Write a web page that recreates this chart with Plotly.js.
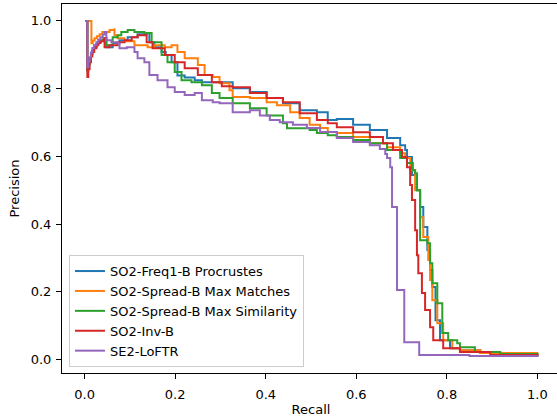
<!DOCTYPE html>
<html><head><meta charset="utf-8">
<script src="https://cdn.plot.ly/plotly-3.0.1.min.js"></script>
<style>html,body{margin:0;padding:0;overflow:hidden;background:#fff}#chart{width:560px;height:420px}</style>
</head><body><div id="chart"></div>
<script>
const seriesNames = ["SO2-Freq1-B Procrustes","SO2-Spread-B Max Matches","SO2-Spread-B Max Similarity","SO2-Inv-B","SE2-LoFTR"];
const seriesColors = ["#1f77b4","#ff7f0e","#2ca02c","#d62728","#9467bd"];

const blueRecall = [0.001,0.006,0.006,0.008,0.011,0.014,0.017,0.021,0.026,0.030,0.035,0.042,0.048,0.048,0.062,0.077,0.095,0.117,0.137,0.143,0.154,0.170,0.179,0.192,0.205,0.221,0.243,0.259,0.283,0.305,0.327,0.365,0.402,0.438,0.475,0.513,0.537,0.557,0.593,0.630,0.668,0.697,0.708,0.712,0.723,0.734,0.741,0.748,0.757,0.763,0.768,0.775,0.785,0.807,0.829,0.874,0.918,1.0];
const bluePrecision = [1.0,1.0,0.854,0.872,0.890,0.903,0.913,0.923,0.931,0.938,0.943,0.949,0.949,0.922,0.934,0.943,0.952,0.961,0.964,0.937,0.922,0.908,0.899,0.878,0.839,0.833,0.825,0.819,0.819,0.819,0.801,0.790,0.772,0.757,0.736,0.730,0.707,0.710,0.693,0.678,0.654,0.633,0.619,0.598,0.545,0.500,0.450,0.391,0.323,0.264,0.214,0.116,0.057,0.033,0.027,0.019,0.013,0.010];

const orangeRecall = [0.001,0.015,0.015,0.018,0.022,0.027,0.033,0.039,0.055,0.066,0.066,0.073,0.088,0.110,0.139,0.154,0.177,0.192,0.205,0.221,0.250,0.265,0.283,0.298,0.320,0.327,0.365,0.402,0.425,0.454,0.475,0.497,0.520,0.537,0.557,0.593,0.630,0.668,0.697,0.708,0.719,0.730,0.741,0.748,0.759,0.763,0.768,0.779,0.792,0.812,0.829,0.874,1.0];
const orangePrecision = [1.0,1.0,0.934,0.942,0.949,0.955,0.961,0.967,0.973,0.978,0.958,0.949,0.940,0.928,0.922,0.928,0.922,0.928,0.908,0.890,0.870,0.840,0.834,0.816,0.795,0.775,0.772,0.760,0.751,0.730,0.713,0.693,0.684,0.672,0.669,0.657,0.639,0.627,0.609,0.595,0.559,0.500,0.420,0.362,0.294,0.235,0.175,0.107,0.057,0.033,0.027,0.019,0.010];

const greenRecall = [0.001,0.006,0.006,0.008,0.011,0.014,0.017,0.021,0.026,0.030,0.035,0.042,0.048,0.062,0.073,0.081,0.095,0.110,0.132,0.148,0.170,0.183,0.199,0.214,0.236,0.259,0.281,0.298,0.327,0.365,0.402,0.438,0.447,0.475,0.497,0.513,0.537,0.557,0.593,0.630,0.668,0.697,0.712,0.725,0.730,0.734,0.741,0.757,0.763,0.768,0.779,0.790,0.803,0.823,0.829,0.862,0.918,1.0];
const greenPrecision = [1.0,1.0,0.854,0.872,0.890,0.903,0.913,0.923,0.931,0.938,0.943,0.949,0.928,0.952,0.958,0.967,0.973,0.967,0.964,0.937,0.899,0.878,0.849,0.825,0.819,0.810,0.787,0.772,0.757,0.742,0.721,0.698,0.683,0.683,0.678,0.669,0.662,0.657,0.648,0.639,0.619,0.595,0.580,0.559,0.550,0.500,0.352,0.343,0.284,0.225,0.166,0.078,0.057,0.048,0.036,0.022,0.016,0.010];

const redRecall = [0.001,0.006,0.006,0.008,0.011,0.014,0.017,0.021,0.026,0.030,0.035,0.042,0.044,0.055,0.073,0.088,0.104,0.117,0.132,0.137,0.150,0.170,0.177,0.199,0.221,0.250,0.281,0.303,0.327,0.365,0.402,0.438,0.475,0.513,0.537,0.557,0.593,0.630,0.659,0.681,0.701,0.712,0.719,0.723,0.730,0.734,0.737,0.745,0.752,0.763,0.770,0.792,0.829,0.896,1.0];
const redPrecision = [1.0,1.0,0.834,0.858,0.878,0.895,0.908,0.919,0.928,0.935,0.940,0.949,0.922,0.928,0.937,0.943,0.952,0.958,0.958,0.937,0.919,0.919,0.899,0.878,0.860,0.840,0.819,0.807,0.804,0.787,0.772,0.760,0.727,0.707,0.698,0.686,0.671,0.657,0.639,0.619,0.598,0.568,0.515,0.471,0.382,0.308,0.255,0.196,0.146,0.095,0.057,0.033,0.022,0.013,0.007];

const purpleRecall = [0.001,0.006,0.006,0.008,0.011,0.014,0.017,0.021,0.026,0.030,0.035,0.040,0.044,0.048,0.059,0.073,0.077,0.093,0.110,0.117,0.132,0.143,0.161,0.183,0.199,0.221,0.243,0.259,0.283,0.298,0.327,0.365,0.387,0.409,0.431,0.460,0.491,0.520,0.557,0.593,0.630,0.652,0.664,0.668,0.675,0.679,0.690,0.706,0.739,0.850,1.0];
const purplePrecision = [1.0,1.0,0.863,0.880,0.893,0.907,0.920,0.929,0.937,0.945,0.952,0.960,0.967,0.943,0.937,0.934,0.919,0.922,0.908,0.890,0.878,0.840,0.825,0.804,0.790,0.781,0.787,0.766,0.760,0.757,0.730,0.736,0.721,0.707,0.701,0.693,0.684,0.672,0.654,0.642,0.633,0.622,0.607,0.595,0.568,0.450,0.205,0.051,0.013,0.010,0.008];

const recallSets = [blueRecall, orangeRecall, greenRecall, redRecall, purpleRecall];
const precisionSets = [bluePrecision, orangePrecision, greenPrecision, redPrecision, purplePrecision];

const xTickVals = [0,0.2,0.4,0.6,0.8,1.0];
const xTickText = ["0.0","0.2","0.4","0.6","0.8","1.0"];
const yTickVals = [0,0.2,0.4,0.6,0.8,1.0];
const yTickText = ["0.0","0.2","0.4","0.6","0.8","1.0"];

const FONT = "DejaVu Sans, Liberation Sans, sans-serif";
const traces = seriesNames.map((n,i)=>({
  type:'scatter', mode:'lines', name:n,
  x: recallSets[i], y: precisionSets[i],
  line:{color:seriesColors[i], width:2, shape:'hv'}
}));

const layout = {
  width:560, height:420,
  margin:{l:62, r:0, t:4, b:47, pad:0},
  paper_bgcolor:'#fff', plot_bgcolor:'#fff',
  font:{family:FONT, size:13, color:'#000'},
  showlegend:true,
  legend:{x:0.014, y:0.016, xanchor:'left', yanchor:'bottom',
    bgcolor:'rgba(255,255,255,0.8)', bordercolor:'#cccccc', borderwidth:1,
    font:{family:FONT, size:13, color:'#000'}},
  xaxis:{range:[-0.05,1.05], tickvals:xTickVals, ticktext:xTickText,
    showgrid:false, zeroline:false, showline:true, mirror:true, linecolor:'#000', linewidth:1,
    ticks:'outside', ticklen:5, tickwidth:1, tickcolor:'#000', ticklabelstandoff:4,
    title:{text:'Recall', font:{family:FONT, size:13}, standoff:4}},
  yaxis:{range:[-0.04,1.05], tickvals:yTickVals, ticktext:yTickText,
    showgrid:false, zeroline:false, showline:true, mirror:true, linecolor:'#000', linewidth:1,
    ticks:'outside', ticklen:5, tickwidth:1, tickcolor:'#000', ticklabelstandoff:2,
    title:{text:'Precision', font:{family:FONT, size:13}, standoff:8}}
};
Plotly.newPlot('chart', traces, layout, {displayModeBar:false, staticPlot:true});
</script></body></html>
